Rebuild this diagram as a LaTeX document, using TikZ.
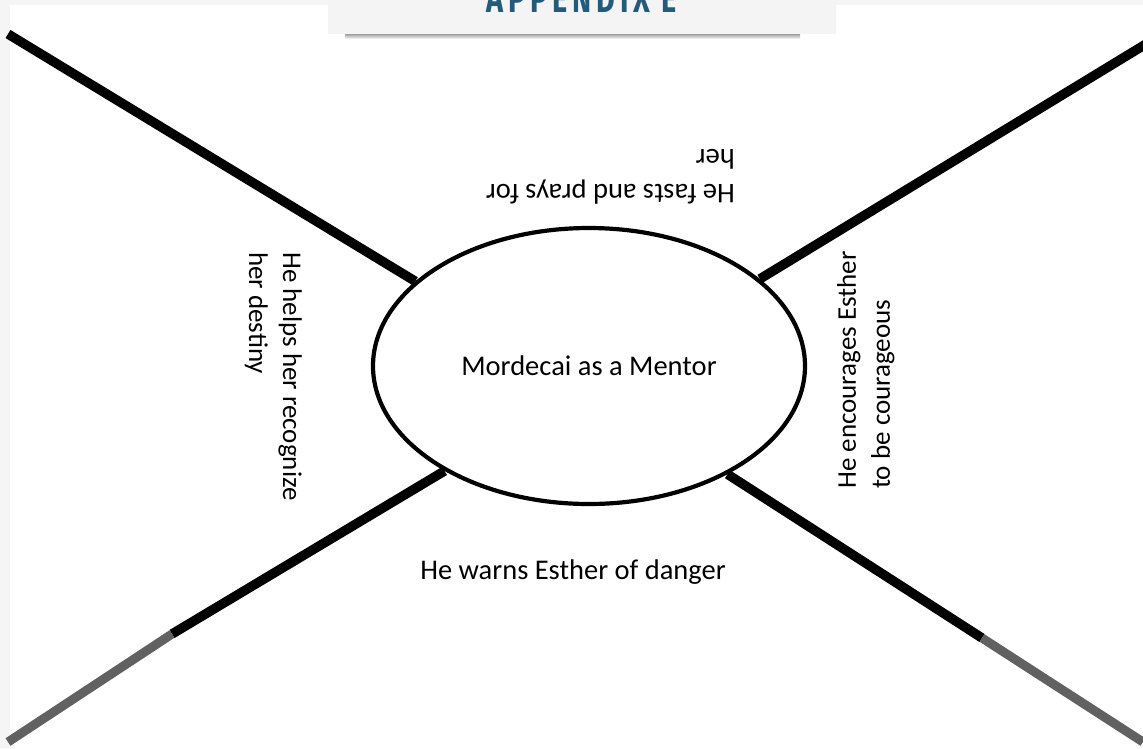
\documentclass[tikz,border=0pt]{standalone}
\usepackage{fontspec}
\setmainfont{Carlito}
\newfontfamily\tabfont[FakeStretch=0.72,LetterSpace=12]{Fira Sans}
\usetikzlibrary{%
  calc,%
  shapes.geometric%
}
\definecolor{tabblue}{HTML}{245A7A}
\tikzset{>=latex,
  spoke/.style={line width=9.5pt},
  spokeend/.style={line width=9pt,black!62},
  remark/.style={inner sep=0pt,font=\fontsize{28.5}{35}\selectfont,align=left},
  sideremark/.style={remark,font=\fontsize{27}{34}\selectfont}}

\begin{document}
\begin{tikzpicture}[x=1pt,y=-1pt]
    \useasboundingbox (0,0) rectangle (1143,748);
    \fill[gray!8] (0,0) rectangle (1143,748);
    \fill[white] (10,5) rectangle (1143,748);
    \node[draw,ellipse,line width=4.2pt,minimum width=432pt,minimum height=276pt,inner sep=0pt,
      font=\fontsize{28.5}{34}\selectfont] (mentor) at (589,366) {Mordecai as a Mentor};
    \coordinate (tl) at (8,34);
    \coordinate (tr) at (1146,44);
    \coordinate (bl) at (8,742);
    \coordinate (br) at (1143,742);
    \coordinate (blfade) at (172,634);
    \coordinate (brfade) at (982,638);
    \draw[spoke] (tl) -- (mentor.154);
    \draw[spoke] (tr) -- (mentor.27);
    \draw[spoke] (blfade) -- (mentor.216);
    \draw[spokeend] (bl) -- (blfade);
    \draw[spoke] (brfade) -- (mentor.322);
    \draw[spokeend] (br) -- (brfade);
    \node[remark,rotate=180,anchor=north west] (fasts) at (735,204) {He fasts and prays for\\her};
    \node[sideremark,rotate=-90,anchor=north west] (helps) at (302,252) {He helps her recognize\\her destiny};
    \node[sideremark,rotate=90,anchor=north west] (courage) at (837,489) {He encourages Esther\\to be courageous};
    \node[remark,anchor=base] (warns) at (573,579) {He warns Esther of danger};
    \begin{scope}
      \clip (0,0) rectangle (1143,748);
      \shade[top color=black!45,bottom color=white] (345,33) rectangle (800,39);
      \shade[left color=gray!9,middle color=white,right color=gray!9] (328,-2) rectangle (836,33);
      \node[text=tabblue,font=\tabfont\bfseries\fontsize{40}{40}\selectfont,anchor=base] (tab) at (582,12) {APPENDIX E};
    \end{scope}
\end{tikzpicture}
\end{document}
